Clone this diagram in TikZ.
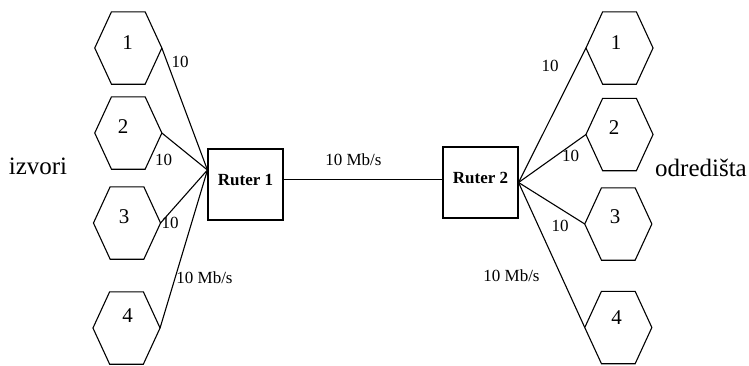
\documentclass[tikz,border=0pt]{standalone}
\usepackage{fontspec}
\setmainfont{Liberation Serif}
\newcommand\hexoutline[1]{%
  \draw[wire] (#1.west) -- ([xshift=16.7pt]#1.north west) -- ([xshift=-16.7pt]#1.north east)
    -- (#1.east) -- ([xshift=-16.7pt]#1.south east) -- ([xshift=16.7pt]#1.south west) -- cycle;}
\begin{document}
\begin{tikzpicture}[x=1pt,y=-1pt,
  wire/.style={line width=1.1pt,line join=miter},
  hexbox/.style={draw=none,minimum width=66.7pt,minimum height=72pt,inner sep=0pt},
  digit/.style={font=\fontsize{21}{24}\selectfont,inner sep=0pt},
  rate/.style={font=\fontsize{17}{20}\selectfont,inner sep=0pt,anchor=base},
  router/.style={draw,line width=1.1pt,minimum width=75pt,minimum height=71pt,inner sep=0pt,
    font=\bfseries\fontsize{17}{20}\selectfont,text height=11.5pt,text depth=10pt},
  side/.style={font=\fontsize{25}{30}\selectfont,inner sep=0pt,anchor=base}]
\useasboundingbox (0,0) rectangle (749,365);

% sources
\node[hexbox] (s1) at (128.3,48) {};
\node[hexbox] (s2) at (128.3,133) {};
\node[hexbox] (s3) at (127,223) {};
\node[hexbox] (s4) at (126.5,328) {};
\foreach \h in {s1,s2,s3,s4} {\hexoutline{\h}}
\node[digit] (s1n) at (127.7,43) {1};
\node[digit] (s2n) at (123,127) {2};
\node[digit] (s3n) at (124,216.7) {3};
\node[digit] (s4n) at (127.7,315.7) {4};

% destinations
\node[hexbox] (d1) at (619.5,48) {};
\node[hexbox] (d2) at (619.5,134.5) {};
\node[hexbox] (d3) at (618.3,224) {};
\node[hexbox] (d4) at (618.3,327.5) {};
\foreach \h in {d1,d2,d3,d4} {\hexoutline{\h}}
\node[digit] (d1n) at (616,42.5) {1};
\node[digit] (d2n) at (614,128) {2};
\node[digit] (d3n) at (615,216.7) {3};
\node[digit] (d4n) at (616.7,317.5) {4};

% routers
\node[router] (r1) at (245.5,184.5) {Ruter 1};
\node[router] (r2) at (480.5,182.5) {Ruter 2};

% links
\foreach \h in {s1,s2,s3,s4} {\draw[wire] (\h.east) -- ([yshift=14.5pt]r1.west);}
\foreach \h in {d1,d2,d3,d4} {\draw[wire] (\h.west) -- (r2.east);}
\draw[wire] ([yshift=5.2pt]r1.east) -- ([yshift=3.2pt]r2.west);

% labels
\node[side] (src) at (38,174.5) {izvori};
\node[side] (dst) at (701,176.5) {odredišta};
\node[rate] (ls1) at (180,67) {10};
\node[rate] (ls2) at (163.7,165) {10};
\node[rate] (ls3) at (170,228.3) {10};
\node[rate] (ls4) at (204.5,283) {10 Mb/s};
\node[rate] (lmid) at (353.4,165) {10 Mb/s};
\node[rate] (ld1) at (550,71.7) {10};
\node[rate] (ld2) at (570.5,161) {10};
\node[rate] (ld3) at (560,231.5) {10};
\node[rate] (ld4) at (511.5,281.5) {10 Mb/s};
\end{tikzpicture}
\end{document}
